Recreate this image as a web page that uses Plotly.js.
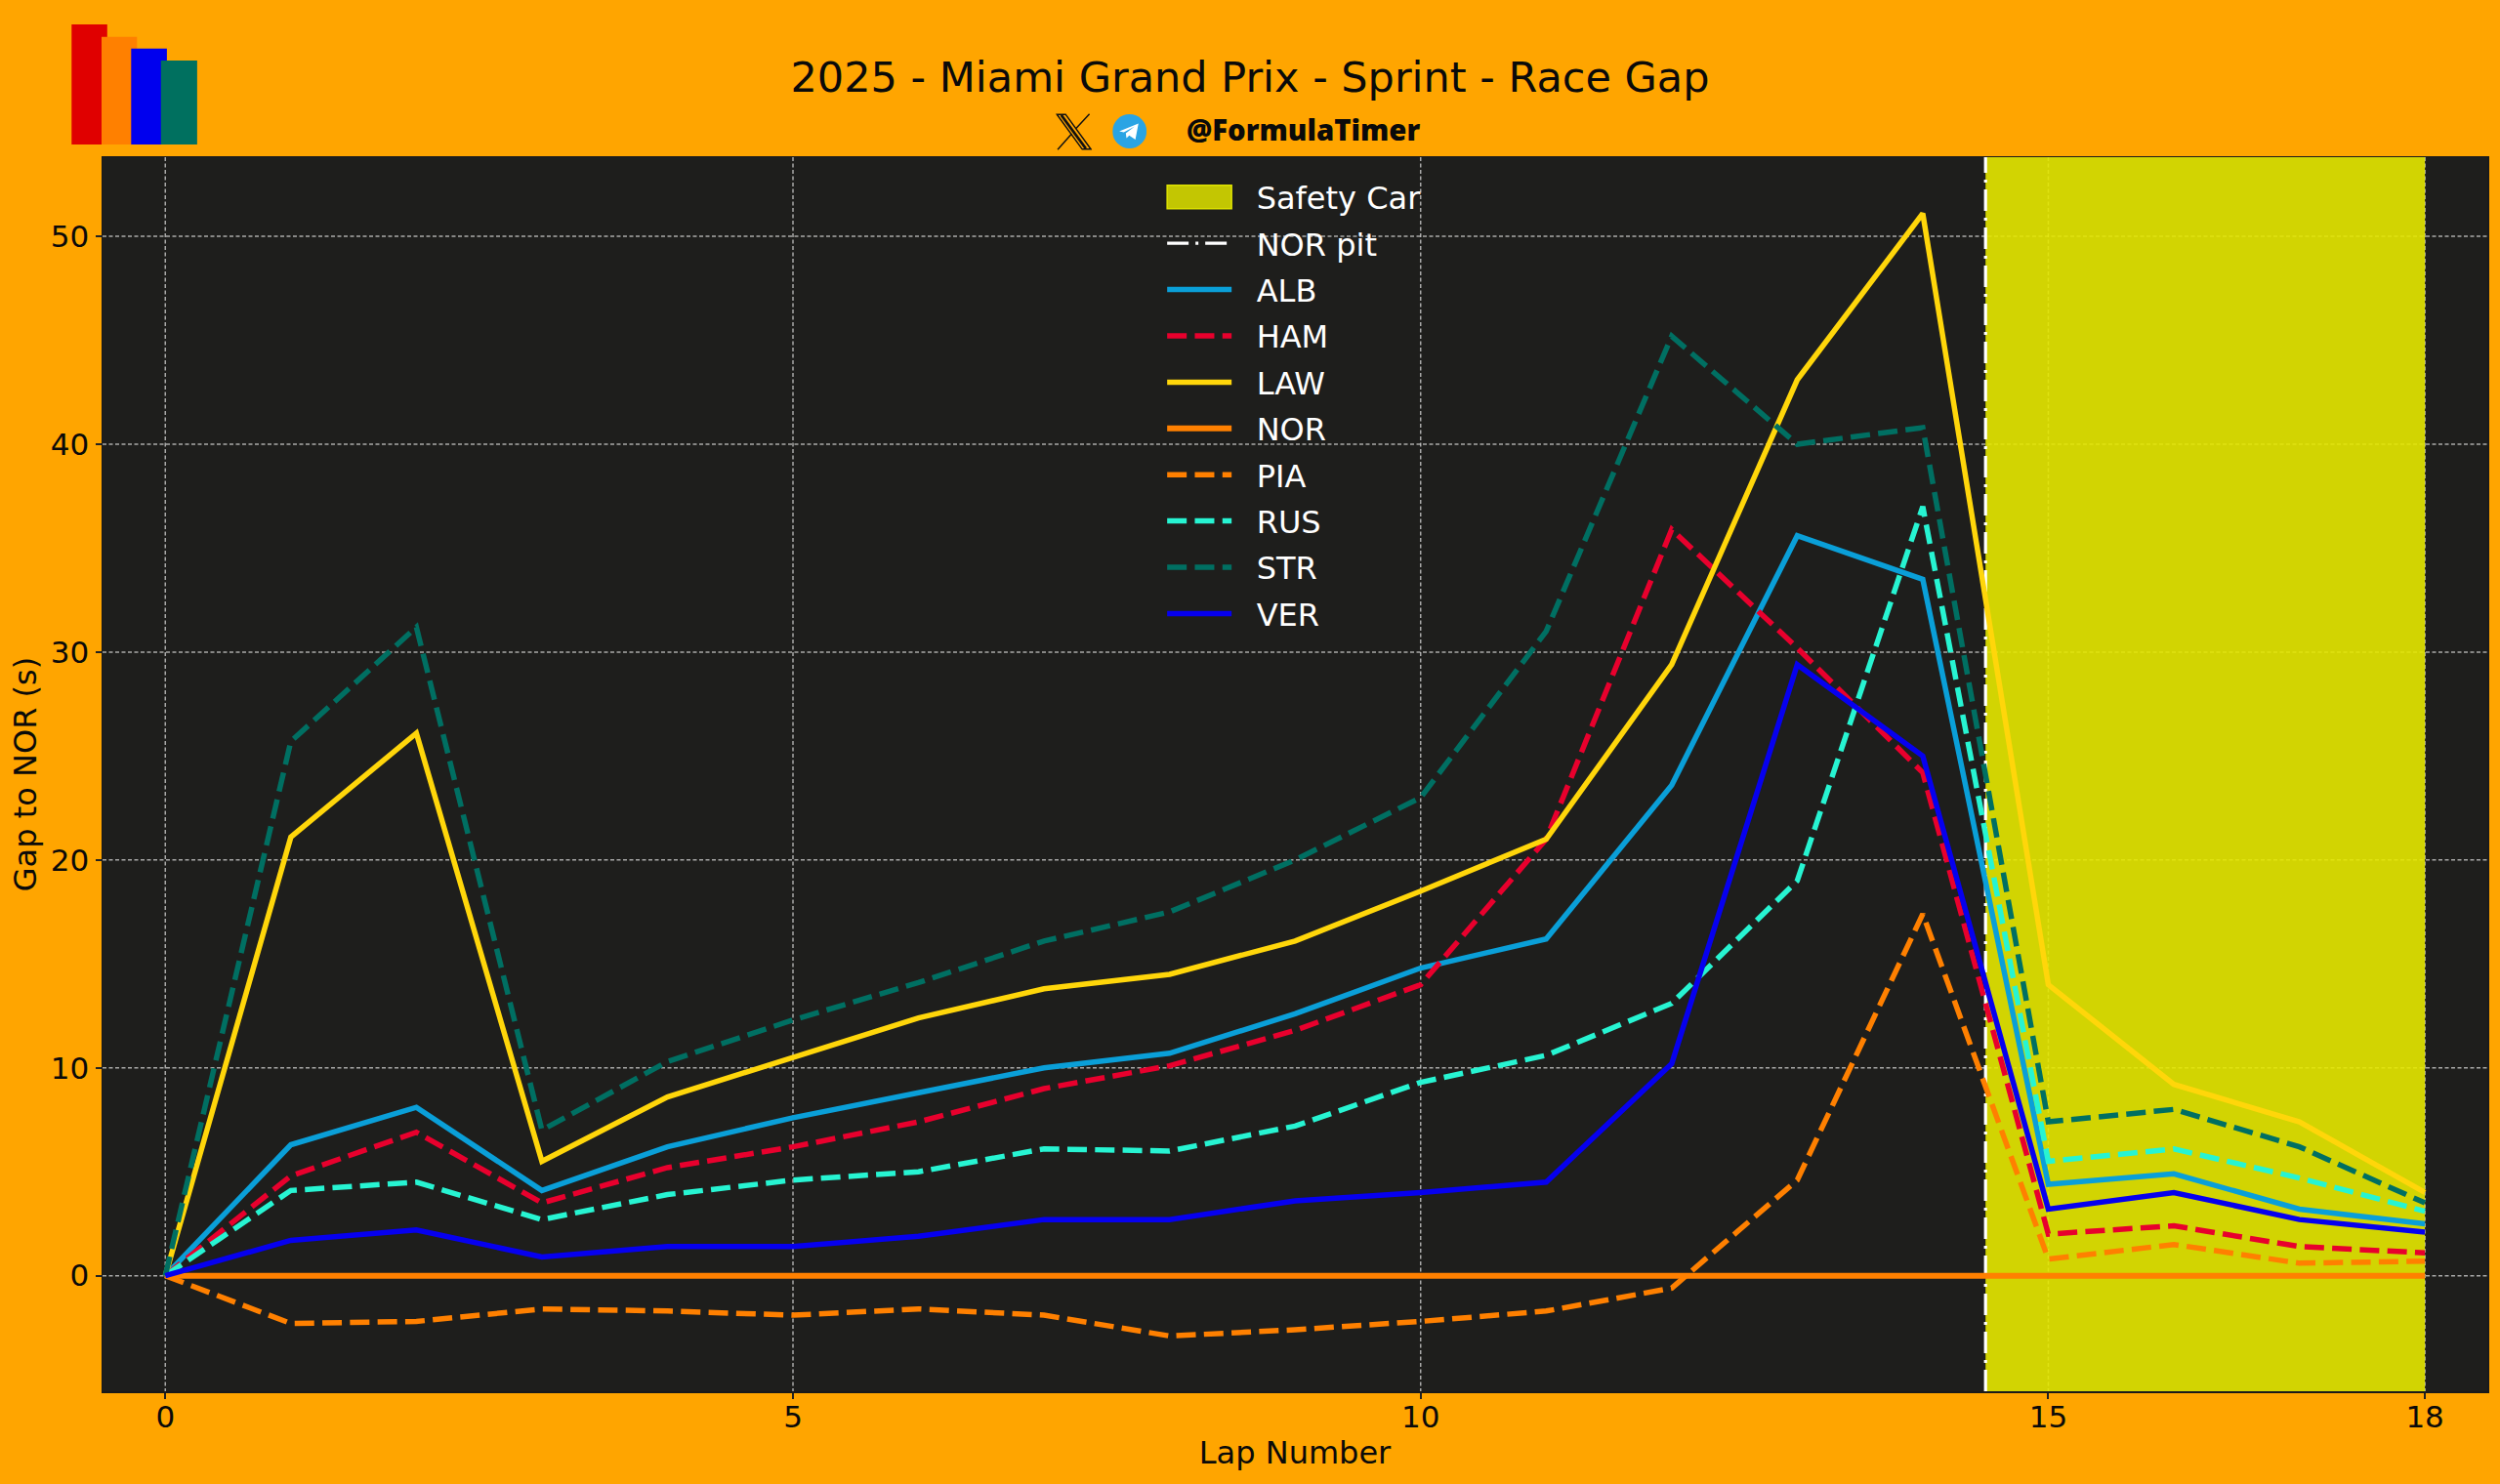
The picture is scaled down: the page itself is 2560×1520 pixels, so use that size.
<!DOCTYPE html>
<html>
<head>
<meta charset="utf-8">
<script src="https://cdn.plot.ly/plotly-3.0.1.min.js"></script>
<style>html,body{margin:0;padding:0;background:#FFA500}#chart{width:2560px;height:1520px}</style>
</head>
<body>
<div id="chart"></div>
<script>
const laps = [0,1,2,3,4,5,6,7,8,9,10,11,12,13,14,15,16,17,18];
const ALB = [0,6.3,8.1,4.1,6.2,7.6,8.8,10,10.7,12.6,14.8,16.2,23.6,35.6,33.5,4.4,4.9,3.2,2.5];
const HAM = [0,4.8,6.9,3.5,5.2,6.2,7.4,9,10.1,11.8,14,21,35.9,30.2,24.2,2,2.4,1.4,1.1];
const LAW = [0,21.1,26.1,5.5,8.6,10.5,12.4,13.8,14.5,16.1,18.5,21,29.4,43.1,51.1,14,9.2,7.4,4];
const NOR = [0,0,0,0,0,0,0,0,0,0,0,0,0,0,0,0,0,0,0];
const PIA = [0,-2.3,-2.2,-1.6,-1.7,-1.9,-1.6,-1.9,-2.9,-2.6,-2.2,-1.7,-0.6,4.6,17.4,0.8,1.5,0.6,0.7];
const RUS = [0,4.1,4.5,2.7,3.9,4.6,5,6.1,6,7.2,9.3,10.6,13.1,19,37,5.5,6.1,4.7,3.1];
const STR = [0,25.7,31.2,7,10.3,12.3,14.1,16.1,17.5,20,23,31,45.2,40,40.8,7.4,8,6.2,3.5];
const VER = [0,1.7,2.2,0.9,1.4,1.4,1.9,2.7,2.7,3.6,4,4.5,10.2,29.4,25,3.2,4,2.7,2.1];
const safetyCarStart = 14.5, safetyCarEnd = 18, norPitLap = 14.5;
const xRange = [-0.5,18.497], yRange = [-5.56,53.81];
const xTicks = [0,5,10,15,18], yTicks = [0,10,20,30,40,50];

const W=2560,H=1520,L=104.7,R=2547,T=161,B=1425;
const px=x=>(x-L)/(R-L), py=y=>(B-y)/(B-T);
const DASH='20px,8.3px';
function drv(name,y,color,dash,width){
  return {x:laps,y:y,name:name,mode:'lines',legendgroup:name,
    line:{color:color,width:width||5.5,dash:dash?DASH:'solid'},hoverinfo:'skip'};
}
const traces=[
 {x:[safetyCarStart,safetyCarEnd,safetyCarEnd,safetyCarStart,safetyCarStart],
  y:[yRange[0],yRange[0],yRange[1],yRange[1],yRange[0]],name:'Safety Car',mode:'none',fill:'toself',
  fillcolor:'rgba(229,232,0,0.9)',legendgroup:'sc',hoverinfo:'skip'},
 {x:[norPitLap,norPitLap],y:yRange,name:'NOR pit',mode:'lines',legendgroup:'pit',
  line:{color:'#FFFFFF',width:3.2,dash:'22px,7px,3px,7px'},hoverinfo:'skip'},
 drv('ALB',ALB,'#0A9FD8',false),
 drv('HAM',HAM,'#E8002D',true),
 drv('LAW',LAW,'#FFD60A',false),
 drv('NOR',NOR,'#FF8000',false,6),
 drv('PIA',PIA,'#FF8000',true),
 drv('RUS',RUS,'#27F4D2',true),
 drv('STR',STR,'#006F62',true),
 drv('VER',VER,'#0600EF',false)
];
const logo=[[73,109.5,25,'#E00000'],[103.7,140,37.7,'#FF8000'],[134,170.6,49.7,'#0000EE'],[164.5,201.6,62,'#00705F']];
const shapes=logo.map(b=>({type:'rect',xref:'paper',yref:'paper',layer:'above',
  x0:px(b[0]),x1:px(b[1]),y0:py(148),y1:py(b[2]),fillcolor:b[3],line:{width:0}}));
const xSvg=`<svg xmlns="http://www.w3.org/2000/svg" viewBox="0 0 100 100"><path fill="none" stroke="#111" stroke-width="4" d="M3 3H27L97 97H73Z"/><path fill="none" stroke="#111" stroke-width="7" d="M15 5L83 95"/><path fill="none" stroke="#111" stroke-width="4" d="M93 2L56 41M44 55L5 98"/></svg>`;
const tgSvg=`<svg xmlns="http://www.w3.org/2000/svg" viewBox="0 0 100 100"><circle cx="50" cy="50" r="50" fill="#2AA4E4"/><path fill="#fff" d="M20 50L76 27L67 74L49 62L41 70L39 56L65 36L33 53Z"/></svg>`;
const uri=s=>'data:image/svg+xml;base64,'+btoa(s);
const images=[
 {source:uri(xSvg),xref:'paper',yref:'paper',x:px(1081),y:py(116),sizex:37/(R-L),sizey:38/(B-T),xanchor:'left',yanchor:'top',sizing:'stretch',layer:'above'},
 {source:uri(tgSvg),xref:'paper',yref:'paper',x:px(1139),y:py(117),sizex:35/(R-L),sizey:35/(B-T),xanchor:'left',yanchor:'top',sizing:'stretch',layer:'above'}
];
const font='"DejaVu Sans"';
const axisCommon={
   tickfont:{family:font,size:31,color:'#0A0A0A'},ticks:'outside',ticklen:6,tickwidth:2,tickcolor:'#222',
   showgrid:true,gridcolor:'rgba(255,255,255,0.62)',gridwidth:1.5,griddash:'4px,2.5px',zeroline:false,
   showline:true,mirror:true,linecolor:'#1A1A1A',linewidth:1.5};
const layout={
 width:W,height:H,
 margin:{l:L,r:W-R,t:T,b:H-B,pad:0,autoexpand:false},
 paper_bgcolor:'#FFA500',plot_bgcolor:'#1E1E1C',
 font:{family:font,color:'#0A0A0A',size:30},
 title:{text:'2025 - Miami Grand Prix - Sprint - Race Gap',x:0.5,xref:'container',xanchor:'center',
        y:1-78.5/H,yref:'container',yanchor:'middle',font:{family:font,size:43,color:'#0A0A0A'}},
 xaxis:Object.assign({},axisCommon,{range:xRange,tickmode:'array',tickvals:xTicks,ticktext:xTicks.map(String),
   ticklabelstandoff:-8,
   title:{text:'Lap Number',font:{family:font,size:32,color:'#0A0A0A'},standoff:9}}),
 yaxis:Object.assign({},axisCommon,{range:yRange,tickmode:'array',tickvals:yTicks,ticktext:yTicks.map(String),
   title:{text:'Gap to NOR (s)',font:{family:font,size:32,color:'#0A0A0A'},standoff:4}}),
 legend:{x:px(1190),y:py(174.5),xanchor:'left',yanchor:'top',bgcolor:'rgba(0,0,0,0)',borderwidth:0,
   font:{family:font,size:32,color:'#FFFFFF'},tracegroupgap:2.8,itemwidth:66,traceorder:'grouped',
   entrywidth:300,entrywidthmode:'pixels'},
 showlegend:true,
 shapes:shapes,images:images,
 annotations:[{text:'@FormulaTimer',xref:'paper',yref:'paper',x:px(1334),y:py(133),xanchor:'center',yanchor:'middle',
   showarrow:false,font:{family:'"Open Sans"',size:29.3,weight:800,color:'#0A0A0A'}}]
};
Plotly.newPlot('chart',traces,layout,{displayModeBar:false,staticPlot:true}).then(gd=>{
  const sb=gd.querySelector('.legend .scrollbox'); if(sb){sb.removeAttribute('clip-path');sb.style.clipPath='none';}
  gd.querySelectorAll('.legend .legendtext').forEach(t=>t.setAttribute('x',(+t.getAttribute('x'))+20.5));
  gd.querySelectorAll('.legend .legendfill path').forEach(p=>{
    if(p.getAttribute('d') && p.style.fill && p.style.fill!=='none'){
      p.setAttribute('d','M5,-12h66v24h-66z');
      p.style.fill='rgb(213,216,0)';p.style.opacity=1;p.style.stroke='rgb(222,226,0)';p.style.strokeWidth='1.5px';
    }
  });
  gd.querySelectorAll('.gridlayer path').forEach(p=>{p.style.shapeRendering='auto';});
});
</script>
</body>
</html>
